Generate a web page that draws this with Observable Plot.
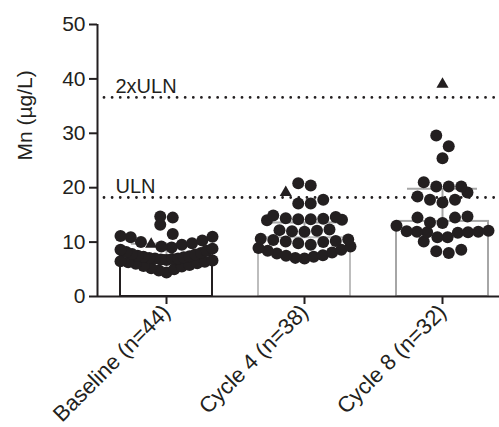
<!DOCTYPE html>
<html><head><meta charset="utf-8">
<script src="https://cdn.jsdelivr.net/npm/d3@7"></script>
<script src="https://cdn.jsdelivr.net/npm/@observablehq/plot@0.6"></script>
<style>body{margin:0;background:#fff}</style>
</head><body><div id="chart"></div>
<script>
const categories = ["Baseline (n=44)", "Cycle 4 (n=38)", "Cycle 8 (n=32)"];
const means = [7.5, 10.8, 13.8];
const sdTops = [9.7, 13.6, 19.8];
const barColors = ["#231f20", "#bdbdbd", "#a6a6a6"];
const baselineValues = [13.2, 14.7, 14.5, 10.9, 11.0, 11.1, 11.5,
  4.4, 4.8, 5.0, 5.2, 5.5, 5.6, 5.8, 6.0, 6.1, 6.3, 6.4, 6.5, 6.6, 6.7, 6.8, 6.9,
  7.0, 7.0, 7.1, 7.2, 7.3, 7.4, 7.5, 7.7, 7.8, 8.0, 8.2, 8.4, 8.6, 8.8, 9.0, 9.2,
  9.5, 9.8, 10.0, 10.3];
const cycle4Values = [20.4, 20.8, 17.1, 17.1, 17.8,
  14.0, 14.9, 14.2, 14.3, 14.1, 14.4, 14.2, 14.6,
  12.0, 12.2, 11.9, 12.3, 12.1,
  10.2, 10.4, 10.5, 10.0, 10.6,
  7.0, 7.1, 7.3, 7.5, 7.6, 7.9, 8.1, 8.4, 8.6, 8.9, 9.2, 9.5, 9.8, 10.1];
const cycle8Values = [29.6, 27.6, 25.4, 21.0, 20.2, 19.1, 20.2, 20.2,
  17.8, 17.8, 18.4, 17.3, 14.7, 14.5, 14.5, 13.6, 13.5, 13.0,
  11.7, 11.8, 11.9, 12.0, 11.9, 12.1, 11.8, 10.9, 10.1, 10.9, 8.6, 8.0, 8.3];
const triangleValues = [9.6, 19.1, 39.0];
const refValues = [18.2, 36.6];
const refLabels = ["ULN", "2xULN"];
const yTicks = [0, 10, 20, 30, 40, 50];
const yLabel = "Mn (µg/L)";

const ink = "#231f20";
const FACET = 138;          // px per category column
const ROW = 2.2;            // row height of the swarm, in data units (≈ one dot)
const STEP = 12.5;          // preferred spacing between dots in a row, px
const HALF = 46;            // half-width available to a row, px

// Prism-like column scatter: bin values into rows, lay each row out center-out
function swarm(cat, vals, tri) {
  const pts = vals.map(v => ({cat, value: v, sym: "circle"}));
  pts.push({cat, value: tri, sym: "triangle"});
  pts.sort((a, b) => a.value - b.value);
  const rows = [];
  let cur = null;
  for (const p of pts) {
    if (!cur || p.value - cur.start >= ROW) { cur = {start: p.value, items: []}; rows.push(cur); }
    cur.items.push(p);
  }
  for (const row of rows) {
    const n = row.items.length;
    const step = n > 1 ? Math.min(STEP, 2 * HALF / (n - 1)) : 0;
    row.items.forEach((p, k) => {
      let slot;
      if (n % 2) slot = k === 0 ? 0 : (k % 2 ? -1 : 1) * Math.ceil(k / 2);
      else slot = (k % 2 ? -1 : 1) * (Math.floor(k / 2) + 0.5);
      p.off = slot * step;
    });
  }
  return pts;
}
const points = [
  ...swarm(categories[0], baselineValues, triangleValues[0]),
  ...swarm(categories[1], cycle4Values, triangleValues[1]),
  ...swarm(categories[2], cycle8Values, triangleValues[2])
];
const bars = categories.map((c, i) => ({cat: c, mean: means[i], top: sdTops[i], color: barColors[i]}));
const refs = refValues.map((v, i) => ({value: v, label: refLabels[i], cat: categories[0]}));
const L = FACET / 17;

const chart = Plot.plot({
  width: 499,
  height: 427,
  marginLeft: 97,
  marginRight: -12,
  marginTop: 24,
  marginBottom: 131,
  style: {fontFamily: "'Liberation Sans', Arial, sans-serif", color: ink, background: "#fff"},
  fx: {domain: categories, padding: 0, label: null},
  x: {type: "linear", domain: [-FACET / 2, FACET / 2], axis: null},
  y: {domain: [0, 50], label: null},
  color: {type: "identity"},
  marks: [
    Plot.rectY(bars, {fx: "cat", x1: -46, x2: 46, y: "mean", fill: "none", stroke: "color", strokeWidth: 2}),
    Plot.ruleX(bars, {fx: "cat", x: () => 0, y1: "mean", y2: "top", stroke: "#a6a6a6", strokeWidth: 2}),
    Plot.ruleY(bars, {fx: "cat", x1: -35, x2: 35, y: "top", stroke: "#a6a6a6", strokeWidth: 2}),
    Plot.ruleY(refValues, {stroke: ink, strokeWidth: 2.8, strokeLinecap: "round", strokeDasharray: `0 ${L}`, strokeDashoffset: L - 7}),
    Plot.text(refs, {fx: "cat", y: "value", text: "label", frameAnchor: "left", dx: 18, dy: -4, lineAnchor: "bottom", textAnchor: "start", fontSize: 20, fill: ink}),
    Plot.ruleY([0], {stroke: ink, strokeWidth: 2}),
    Plot.ruleX([{cat: categories[0]}], {fx: "cat", x: () => -FACET / 2, y1: 0, y2: 50, stroke: ink, strokeWidth: 2}),
    Plot.axisY({ticks: yTicks, tickSize: 8, tickPadding: 4, fontSize: 21, label: null, stroke: ink, strokeWidth: 2, fill: ink}),
    Plot.axisFx({anchor: "bottom", tickRotate: -45, tickSize: 8, tickPadding: 4, fontSize: 22, label: null, stroke: ink, strokeWidth: 2, fill: ink}),
    Plot.text([{cat: categories[0], t: yLabel}], {fx: "cat", text: "t", frameAnchor: "left", rotate: -90, dx: -72, fontSize: 21, fill: ink}),
    Plot.dot(points.filter(d => d.sym === "circle"), {fx: "cat", x: "off", y: "value", r: 6, fill: ink}),
    Plot.dot(points.filter(d => d.sym === "triangle"), {fx: "cat", x: "off", y: "value", r: 4.5, symbol: "triangle", fill: ink})
  ]
});
document.getElementById("chart").appendChild(chart);
</script>
</body></html>
